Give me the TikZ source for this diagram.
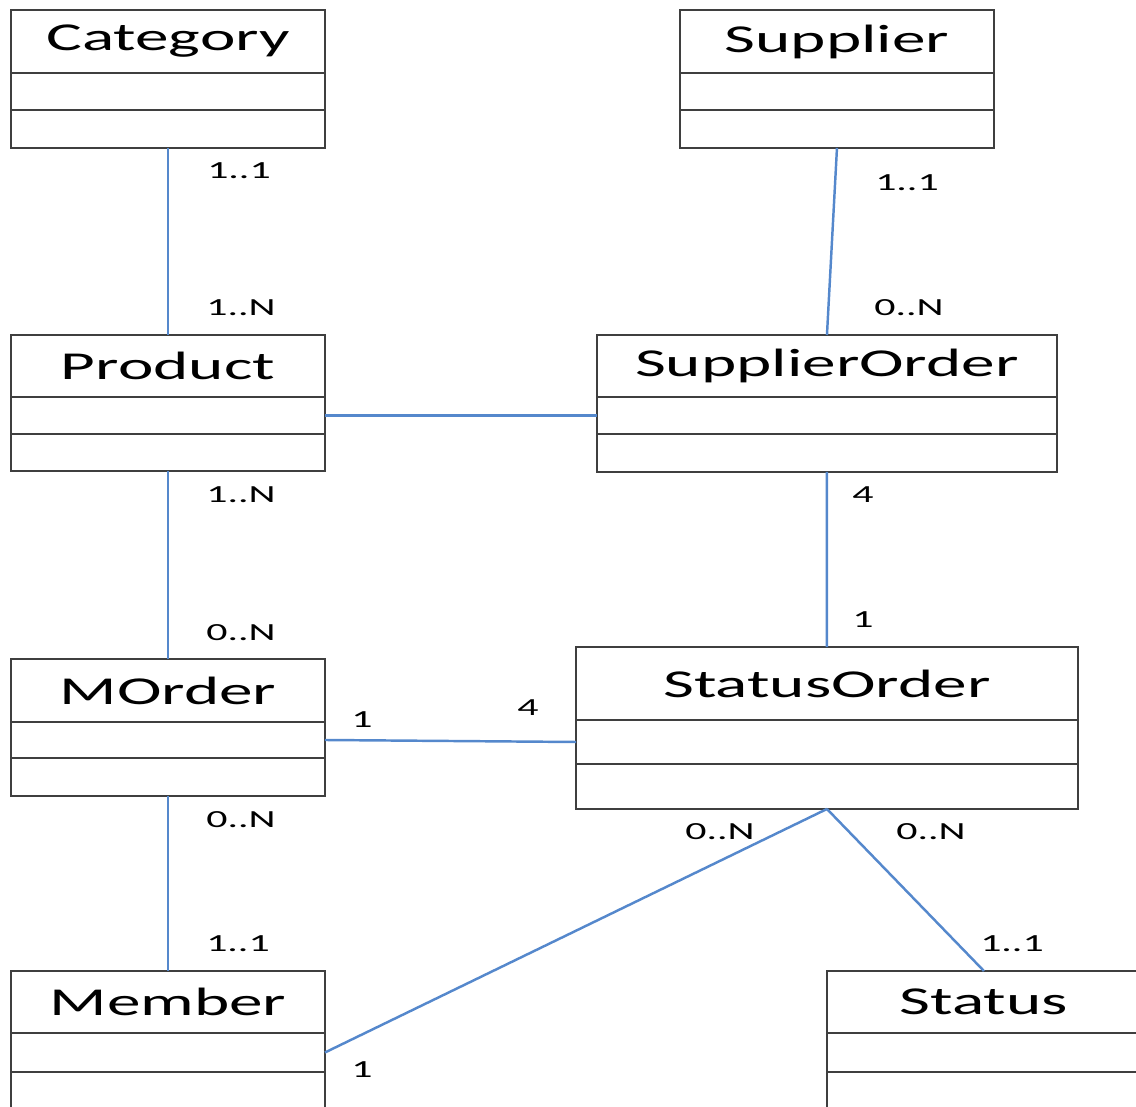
\documentclass[tikz,border=0pt]{standalone}
\usepackage{fontspec}
\newfontfamily\classfont[FakeStretch=1.7]{Carlito}
\usetikzlibrary{positioning}
\definecolor{assocblue}{HTML}{5588CC}
\definecolor{boxgray}{HTML}{3F3F3F}

\tikzset{
  cls/.style={draw=boxgray, line width=0.8pt, fill=white, inner sep=0pt, outer sep=0pt,
    anchor=north west, font=\classfont\fontsize{22.5}{26}\selectfont},
  assoc/.style={draw=assocblue, line width=1.4pt},
  mult/.style={inner sep=0pt, font=\classfont\fontsize{14}{16}\selectfont}
}

\begin{document}
\begin{tikzpicture}[x=0.02cm, y=-0.02cm]
  \useasboundingbox (0,0) rectangle (1136,1106);
  \clip (0,0) rectangle (1136,1106);
  % class boxes: title, attributes, operations
  \foreach \nm/\x/\y/\w/\ha/\hb/\hc/\ttl in {
      cat/11/10/6.28/1.26/0.74/0.76/Category,
      sup/680/10/6.28/1.26/0.74/0.76/Supplier,
      prod/11/335/6.28/1.24/0.74/0.74/Product,
      so/597/335/9.2/1.24/0.74/0.76/SupplierOrder,
      mo/11/659/6.28/1.26/0.72/0.76/MOrder,
      st/576/647/10.04/1.46/0.88/0.9/StatusOrder,
      mem/11/971/6.28/1.24/0.78/0.76/Member,
      sta/827/971/6.28/1.24/0.78/0.76/Status} {
    \node[cls, minimum width=\w cm, minimum height=\ha cm] (\nm-t) at (\x,\y) {\ttl};
    \node[cls, minimum width=\w cm, minimum height=\hb cm, below=0pt of \nm-t] (\nm-a) {};
    \node[cls, minimum width=\w cm, minimum height=\hc cm, below=0pt of \nm-a] (\nm-o) {};
  }

  % associations
  \draw[assoc] (cat-o.south) -- (prod-t.north);
  \draw[assoc] (sup-o.south) -- (so-t.north);
  \draw[assoc] (prod-a.east) -- (so-a.west);
  \draw[assoc] (prod-o.south) -- (mo-t.north);
  \draw[assoc] (so-o.south) -- (st-t.north);
  \draw[assoc] (mo-a.east) -- (st-a.west);
  \draw[assoc] (mo-o.south) -- (mem-t.north);
  \draw[assoc] (st-o.south) -- (mem-a.east);
  \draw[assoc] (st-o.south) -- (sta-t.north);

  % multiplicities
  \foreach \txt/\x/\y [count=\i] in {
      1..1/239/171, 1..N/241/308, 1..1/907/183, 0..N/909/308,
      1..N/241/495, 0..N/241/633, 4/863/495, 1/863/620,
      1/362/720, 4/528/708, 0..N/241/820, 1..1/238/944,
      0..N/720/832, 1/362/1070, 0..N/931/832, 1..1/1012/944} {
    \node[mult] (m\i) at (\x,\y) {\txt};
  }
\end{tikzpicture}
\end{document}
